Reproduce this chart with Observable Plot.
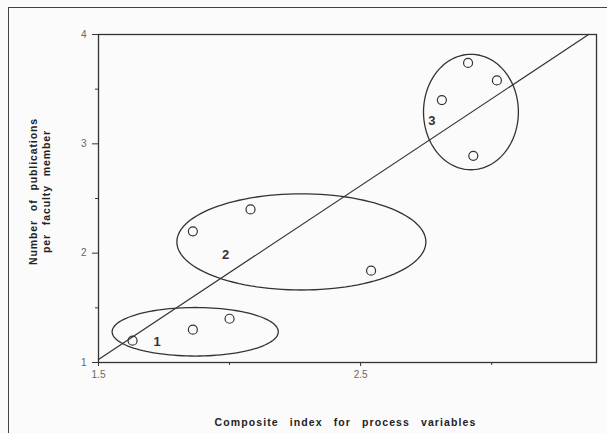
<!DOCTYPE html>
<html>
<head>
<meta charset="utf-8">
<script src="https://cdn.jsdelivr.net/npm/d3@7"></script>
<script src="https://cdn.jsdelivr.net/npm/@observablehq/plot@0.6"></script>
<style>
  html, body { margin: 0; padding: 0; background: #fbfbfb; }
  #wrap { position: relative; width: 607px; height: 433px; overflow: hidden; }
  #border { position: absolute; left: 8px; top: 7px; width: 620px; height: 460px;
            border-left: 1.5px solid #444; border-top: 1.5px solid #444; box-sizing: border-box; }
  svg { position: absolute; left: 0; top: 0; }
</style>
</head>
<body>
<div id="wrap"><div id="border"></div></div>
<script>
// Data points (composite index, publications per faculty member)
const pointX = [1.63, 1.86, 2.00, 1.86, 2.08, 2.54, 2.81, 2.91, 3.02, 2.93];
const pointY = [1.20, 1.30, 1.40, 2.20, 2.40, 1.84, 3.40, 3.74, 3.58, 2.89];

// Regression line endpoints
const lineX = [1.5, 3.37];
const lineY = [1.028, 4.0];

// Cluster ellipses: centre and radii (data units)
const clusterId = ["1", "2", "3"];
const clusterCx = [1.869, 2.274, 2.921];
const clusterCy = [1.281, 2.103, 3.291];
const clusterRx = [0.317, 0.475, 0.181];
const clusterRy = [0.222, 0.440, 0.528];

// Cluster label positions
const labelX = [1.724, 1.985, 2.772];
const labelY = [1.19, 1.983, 3.209];

// Ticks
const xTicksMajor = [1.5, 2.5];
const xTicksMinor = [2.0, 3.0];
const yTicksMajor = [1, 2, 3, 4];
const yTicksMinor = [1.5, 2.5, 3.5];

const xTitle = "Composite index for process variables";
const yTitle = "Number of publications\nper faculty member";

const points = pointX.map((x, i) => ({x, y: pointY[i]}));
const regLine = lineX.map((x, i) => ({x, y: lineY[i]}));
const labels = clusterId.map((t, i) => ({t, x: labelX[i], y: labelY[i]}));

// outline geometry for the ellipses (drawing only)
const ellipsePts = [];
clusterId.forEach((id, i) => {
  const n = 120;
  for (let k = 0; k < n; k++) {
    const a = (k / n) * 2 * Math.PI;
    ellipsePts.push({id, x: clusterCx[i] + clusterRx[i] * Math.cos(a), y: clusterCy[i] + clusterRy[i] * Math.sin(a)});
  }
});

const ink = "#333";
const chart = Plot.plot({
  width: 607,
  height: 433,
  marginLeft: 98,
  marginRight: 11,
  marginTop: 34,
  marginBottom: 71,
  style: {background: "transparent", fontFamily: "'Liberation Sans', Arial, sans-serif", fontSize: "10px", color: "#555"},
  x: {domain: [1.5, 3.4]},
  y: {domain: [1, 4]},
  marks: [
    Plot.frame({stroke: ink, strokeWidth: 1.3}),
    Plot.axisX({ticks: xTicksMajor, tickSize: 4, tickPadding: 4, tickFormat: d3.format(".1f"), label: null, stroke: ink, fill: "#666", fontSize: 10}),
    Plot.axisX({ticks: xTicksMinor, tickSize: 3, tickFormat: () => "", label: null, stroke: ink}),
    Plot.axisY({ticks: yTicksMajor, tickSize: 6, tickPadding: 6, tickFormat: d3.format("d"), label: null, stroke: ink, fill: "#666", fontSize: 10}),
    Plot.axisY({ticks: yTicksMinor, tickSize: 3, tickFormat: () => "", label: null, stroke: ink}),
    Plot.line(regLine, {x: "x", y: "y", stroke: ink, strokeWidth: 1.2}),
    Plot.line(ellipsePts, {x: "x", y: "y", z: "id", curve: "linear-closed", stroke: ink, strokeWidth: 1.3}),
    Plot.dot(points, {x: "x", y: "y", r: 4.5, stroke: ink, strokeWidth: 1.2, fill: "none"}),
    Plot.text(labels, {x: "x", y: "y", text: "t", fontSize: 13, fontWeight: "bold", fill: ink}),
    Plot.text([xTitle], {frameAnchor: "bottom", text: d => d, textAnchor: "middle", lineAnchor: "middle", dx: -2, dy: 60, fontSize: 10.5, fontWeight: "bold", fill: "#222"}),
    Plot.text([yTitle], {frameAnchor: "left", text: d => d, textAnchor: "middle", lineAnchor: "middle", rotate: -90, dx: -59, dy: -7, fontSize: 10.5, fontWeight: "bold", fill: "#222", lineHeight: 1.25})
  ]
});
chart.querySelectorAll("text").forEach(t => {
  const s = t.textContent;
  if (s.includes("Composite")) {
    t.style.letterSpacing = "1.1px";
    t.style.wordSpacing = "7px";
  } else if (s.includes("publications") || s.includes("faculty")) {
    t.style.letterSpacing = "0.9px";
    t.style.wordSpacing = "5px";
  }
});
document.getElementById("wrap").appendChild(chart);
</script>
</body>
</html>
